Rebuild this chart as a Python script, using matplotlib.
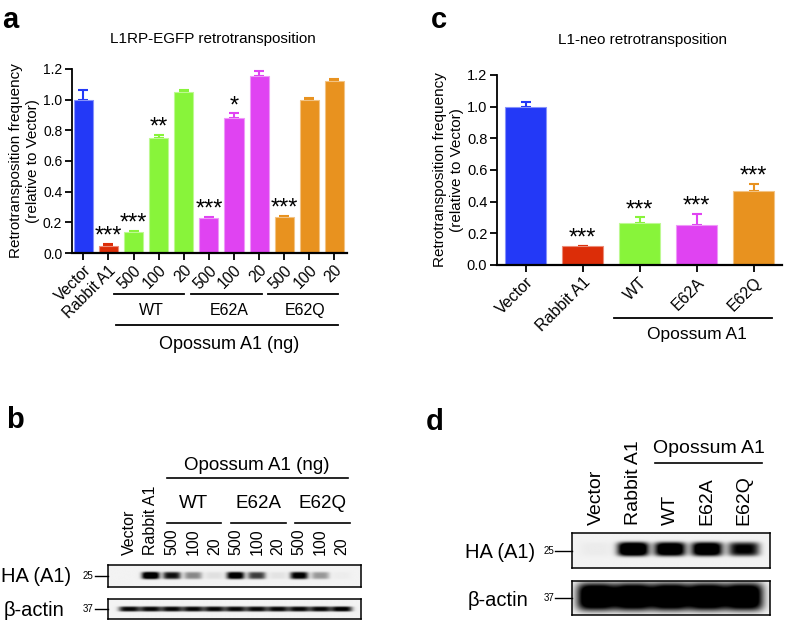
import numpy as np
import matplotlib.pyplot as plt
from matplotlib import transforms as mtrans
from matplotlib.colors import to_rgb

plt.rcParams['font.family'] = ['Liberation Sans', 'DejaVu Sans']

# panel a : L1RP-EGFP retrotransposition
a_labels = ['Vector', 'Rabbit A1', '500', '100', '20', '500', '100', '20', '500', '100', '20']
a_values = [1.00, 0.045, 0.14, 0.75, 1.05, 0.23, 0.88, 1.155, 0.235, 0.995, 1.12]
a_errors = [0.065, 0.015, 0.004, 0.022, 0.012, 0.008, 0.03, 0.035, 0.006, 0.018, 0.018]
a_stars = ['', '***', '***', '**', '', '***', '*', '', '***', '', '']
a_groups = ['WT', 'E62A', 'E62Q']

# panel c : L1-neo retrotransposition
c_labels = ['Vector', 'Rabbit A1', 'WT', 'E62A', 'E62Q']
c_values = [1.00, 0.12, 0.265, 0.255, 0.465]
c_errors = [0.03, 0.002, 0.035, 0.068, 0.048]
c_stars = ['', '***', '***', '***', '***']

# panel b / d : western blot band intensities (0 = none, 1 = strongest)
b_lanes = ['Vector', 'Rabbit A1', '500', '100', '20', '500', '100', '20', '500', '100', '20']
b_ha = [0.0, 1.0, 0.75, 0.35, 0.06, 0.9, 0.6, 0.05, 0.85, 0.3, 0.02]
b_actin = [0.85, 0.85, 0.85, 0.85, 0.85, 0.85, 0.85, 0.85, 0.85, 0.85, 0.9]
d_lanes = ['Vector', 'Rabbit A1', 'WT', 'E62A', 'E62Q']
d_ha = [0.02, 1.0, 0.92, 0.92, 0.7]
d_actin = [1.0, 1.0, 1.0, 1.0, 1.0]

blue, red, green, magenta, orange = '#2339F7', '#DC2D08', '#88F43A', '#E043F2', '#E8921F'
a_colors = [blue, red] + [green] * 3 + [magenta] * 3 + [orange] * 3
c_colors = [blue, red, green, magenta, orange]

W, H = 787, 625
fig = plt.figure(figsize=(W / 100, H / 100), dpi=100)


def rect(x0, y0, x1, y1):
    return [x0 / W, 1 - y1 / H, (x1 - x0) / W, (y1 - y0) / H]


def ftext(x, y, s, **kw):
    fig.text(x / W, 1 - y / H, s, **kw)


def lighter(c, f=0.45):
    r = np.array(to_rgb(c))
    return tuple(r + (1 - r) * f)


def bar_panel(ax, labels, values, errors, stars, colors, width, yfs, xfs):
    x = np.arange(len(values))
    ax.bar(x, values, width, color=colors, edgecolor=[lighter(c) for c in colors], linewidth=0.8, zorder=2)
    for xi, v, e, c, s in zip(x, values, errors, colors, stars):
        ax.errorbar(xi, v, yerr=[[0], [e]], fmt='none', ecolor=c, elinewidth=1.5,
                    capsize=3.8, capthick=1.5, zorder=1)
        if s:
            ax.annotate(s, (xi, v + e), xytext=(0, 1), textcoords='offset points',
                        ha='center', va='baseline', fontsize=17)
    ax.set_ylim(0, 1.2)
    ax.set_yticks(np.arange(0, 1.21, 0.2))
    ax.set_yticklabels(['%.1f' % t for t in np.arange(0, 1.21, 0.2)], fontsize=yfs)
    ax.set_xticks(x)
    ax.set_xticklabels(labels, rotation=45, ha='right', rotation_mode='anchor', fontsize=xfs)
    for s in ['top', 'right']:
        ax.spines[s].set_visible(False)
    ax.spines['left'].set_linewidth(1.3)
    ax.spines['bottom'].set_linewidth(1.6)
    ax.tick_params(direction='out', length=5, width=1.3, pad=2)
    ax.set_ylabel('Retrotransposition frequency\n(relative to Vector)', fontsize=11,
                  linespacing=1.3, labelpad=2)


def group_line(ax, x0, x1, yfrac, lw=1.3):
    tr = mtrans.blended_transform_factory(ax.transData, ax.transAxes)
    ax.plot([x0, x1], [yfrac, yfrac], color='black', lw=lw, transform=tr, clip_on=False)


def group_text(ax, xc, yfrac, s, fs):
    tr = mtrans.blended_transform_factory(ax.transData, ax.transAxes)
    ax.text(xc, yfrac, s, transform=tr, ha='center', va='center', fontsize=fs)


# ---- panel a
axa = fig.add_axes(rect(72, 69, 347, 253))
bar_panel(axa, a_labels, a_values, a_errors, a_stars, a_colors, 0.76, 10, 11.2)
axa.set_xlim(-0.45, 10.5)
for (x0, x1), g in zip([(1.23, 4.0), (4.29, 7.1), (7.34, 10.16)], a_groups):
    group_line(axa, x0, x1, -0.223)
    group_text(axa, (x0 + x1) / 2 + 0.1, -0.315, g, 11.5)
group_line(axa, 1.31, 10.16, -0.391)
group_text(axa, 5.8, -0.495, 'Opossum A1 (ng)', 13)
ftext(213, 39, 'L1RP-EGFP retrotransposition', ha='center', va='center', fontsize=11)
ftext(2, 28, 'a', fontsize=21, fontweight='bold', va='baseline')

# ---- panel c
axc = fig.add_axes(rect(497, 75, 782, 265))
bar_panel(axc, c_labels, c_values, c_errors, c_stars, c_colors, 0.72, 10.5, 11.5)
axc.set_xlim(-0.5, 4.5)
group_line(axc, 1.56, 4.33, -0.279)
group_text(axc, 3.0, -0.368, 'Opossum A1', 12.5)
ftext(642, 40, 'L1-neo retrotransposition', ha='center', va='center', fontsize=11)
ftext(431, 28, 'c', fontsize=21, fontweight='bold', va='baseline')


# ---- blots
def blot(ax, intens, xlim, yc, sy, sx=0.42, gain=1.0):
    nx, ny = 400, 80
    xs = np.linspace(xlim[0], xlim[1], nx)
    ys = np.linspace(1, 0, ny)
    X, Y = np.meshgrid(xs, ys)
    img = np.full_like(X, 0.05)
    for i, v in enumerate(intens):
        img += gain * v * np.exp(-(np.abs(X - i) / sx) ** 4) * np.exp(-((Y - yc) / sy) ** 4)
    ax.imshow(np.clip(img, 0, 1), cmap='gray_r', vmin=0, vmax=1, aspect='auto',
              extent=(xlim[0], xlim[1], 0, 1), interpolation='bilinear')
    ax.set_xlim(*xlim)
    ax.set_ylim(0, 1)
    ax.set_xticks([])
    ax.set_yticks([])
    for s in ax.spines.values():
        s.set_linewidth(1.1)


def marker(ax, s, frac, fs=7):
    ax.plot([-frac, 0], [0.5, 0.5], color='black', lw=1.0, transform=ax.transAxes, clip_on=False)
    ax.text(-frac - 0.005, 0.5, s, transform=ax.transAxes, ha='right', va='center', fontsize=fs)


def head(ax, xc, px_above, s, px_box_h, **kw):
    tr = mtrans.blended_transform_factory(ax.transData, ax.transAxes)
    ax.text(xc, 1 + px_above / px_box_h, s, transform=tr, **kw)


# panel b
b_xlim = (-1.0, 10.9)
axb1 = fig.add_axes(rect(108, 565, 361, 587))
blot(axb1, b_ha, b_xlim, 0.5, 0.16, gain=1.2)
axb2 = fig.add_axes(rect(108, 599, 361, 619))
blot(axb2, b_actin, b_xlim, 0.5, 0.13, sx=0.5, gain=1.1)
marker(axb1, '25', 13 / 253)
marker(axb2, '37', 13 / 253)
ftext(36, 576, 'HA (A1)', ha='center', va='center', fontsize=14.5)
ftext(34, 610, 'β-actin', ha='center', va='center', fontsize=14.5)
for i, s in enumerate(b_lanes):
    head(axb1, i, 10, s, 22, rotation=90, ha='center', va='bottom', fontsize=11.5)
trb = mtrans.blended_transform_factory(axb1.transData, axb1.transAxes)
for (x0, x1), g in zip([(1.76, 4.31), (4.78, 7.36), (7.79, 10.38)], a_groups):
    axb1.plot([x0, x1], [1 + 42 / 22] * 2, color='black', lw=1.2, transform=trb, clip_on=False)
    head(axb1, (x0 + x1) / 2, 62, g, 22, ha='center', va='center', fontsize=13.5)
axb1.plot([1.76, 10.28], [1 + 87 / 22] * 2, color='black', lw=1.2, transform=trb, clip_on=False)
head(axb1, 6.0, 100, 'Opossum A1 (ng)', 22, ha='center', va='center', fontsize=13.5)
ftext(6, 428, 'b', fontsize=21, fontweight='bold', va='baseline')

# panel d
d_xlim = (-0.65, 4.7)
axd1 = fig.add_axes(rect(572, 533, 770, 568))
blot(axd1, d_ha, d_xlim, 0.54, 0.2, gain=1.4)
axd2 = fig.add_axes(rect(572, 581, 770, 615))
blot(axd2, d_actin, d_xlim, 0.52, 0.4, sx=0.52, gain=1.3)
marker(axd1, '25', 17 / 198)
marker(axd2, '37', 17 / 198)
ftext(500, 552, 'HA (A1)', ha='center', va='center', fontsize=14.5)
ftext(498, 600, 'β-actin', ha='center', va='center', fontsize=14.5)
for i, s in enumerate(d_lanes):
    head(axd1, i, 8, s, 35, rotation=90, ha='center', va='bottom', fontsize=14)
trd = mtrans.blended_transform_factory(axd1.transData, axd1.transAxes)
axd1.plot([1.59, 4.49], [1 + 70 / 35] * 2, color='black', lw=1.2, transform=trd, clip_on=False)
head(axd1, 3.04, 85, 'Opossum A1', 35, ha='center', va='center', fontsize=14)
ftext(426, 430, 'd', fontsize=21, fontweight='bold', va='baseline')

fig.savefig('out.png', dpi=100)
